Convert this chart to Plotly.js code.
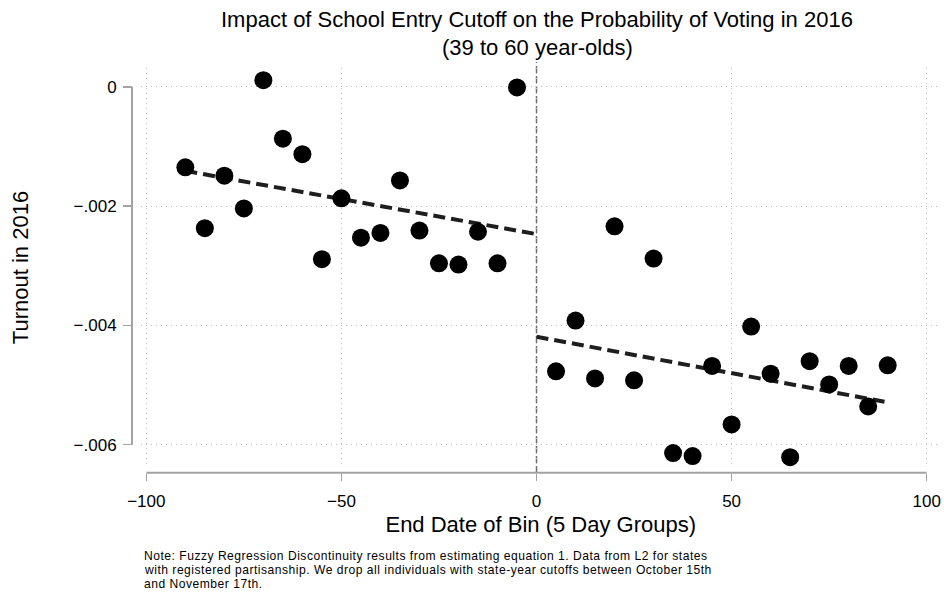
<!DOCTYPE html>
<html>
<head>
<meta charset="utf-8">
<script src="https://cdn.plot.ly/plotly-3.0.1.min.js"></script>
<style>html,body{margin:0;padding:0;background:#fff;}#chart{width:944px;height:595px;}</style>
</head>
<body>
<div id="chart"></div>
<script>
// Binned means: below cutoff
var binLeft = [-90, -85, -80, -75, -70, -65, -60, -55, -50, -45, -40, -35, -30, -25, -20, -15, -10, -5];
var turnoutLeft = [-0.00135, -0.00237, -0.00149, -0.00204, 0.00011, -0.00087, -0.00113, -0.00289, -0.00187, -0.00253, -0.00245, -0.00157, -0.00241, -0.00296, -0.00298, -0.00243, -0.00296, -0.00001];
// Binned means: above cutoff
var binRight = [5, 10, 15, 20, 25, 30, 35, 40, 45, 50, 55, 60, 65, 70, 75, 80, 85, 90];
var turnoutRight = [-0.00477, -0.00392, -0.00489, -0.00234, -0.00492, -0.00288, -0.00614, -0.00619, -0.00468, -0.00566, -0.00402, -0.00481, -0.00621, -0.00460, -0.00499, -0.00468, -0.00536, -0.00467];
// Fitted lines (end points)
var fitLeftX = [-90, 0];
var fitLeftY = [-0.00141, -0.00247];
var fitRightX = [0, 90];
var fitRightY = [-0.00419, -0.00529];
// Ticks
var xTickVals = [-100, -50, 0, 50, 100];
var xTickText = ['\u2212100', '\u221250', '0', '50', '100'];
var yTickVals = [0, -0.002, -0.004, -0.006];
var yTickText = ['0', '\u2212.002', '\u2212.004', '\u2212.006'];
// Texts
var titleLines = ['Impact of School Entry Cutoff on the Probability of Voting in 2016', '(39 to 60 year-olds)'];
var xTitle = 'End Date of Bin (5 Day Groups)';
var yTitle = 'Turnout in 2016';
var noteLines = [
  'Note: Fuzzy Regression Discontinuity results from estimating equation 1. Data from L2 for states',
  'with registered partisanship. We drop all individuals with state-year cutoffs between October 15th',
  'and November 17th.'
];

var W = 944, H = 595;
var FONT = 'Liberation Sans, Arial, Helvetica, sans-serif';
var axisGray = '#a3a3a3';
function px(x) { return x / W; }
function py(y) { return (H - y) / H; }

var markerStyle = {size: 18, color: '#000000', line: {width: 0}};
var fitStyle = {color: '#1e1e1e', width: 4, dash: '12px,6px'};

var traces = [
  {x: fitLeftX, y: fitLeftY, type: 'scatter', mode: 'lines', line: fitStyle, hoverinfo: 'skip'},
  {x: fitRightX, y: fitRightY, type: 'scatter', mode: 'lines', line: fitStyle, hoverinfo: 'skip'},
  {x: binLeft, y: turnoutLeft, type: 'scatter', mode: 'markers', marker: markerStyle},
  {x: binRight, y: turnoutRight, type: 'scatter', mode: 'markers', marker: markerStyle}
];

var annotations = noteLines.map(function (t, i) {
  return {text: '<span style="letter-spacing:0.5px">' + t + '</span>',
          xref: 'paper', yref: 'paper', x: px(142), y: py(556 + 14 * i),
          xanchor: 'left', yanchor: 'middle', showarrow: false,
          font: {family: FONT, size: 12.1, color: '#000'}};
});
titleLines.forEach(function (t, i) {
  annotations.push({text: t, xref: 'paper', yref: 'paper', x: px(537), y: py(20 + 27 * i),
          xanchor: 'center', yanchor: 'middle', showarrow: false,
          font: {family: FONT, size: 22, color: '#000'}});
});

var layout = {
  width: W, height: H,
  margin: {l: 0, r: 0, t: 0, b: 0},
  paper_bgcolor: '#ffffff', plot_bgcolor: '#ffffff',
  showlegend: false,
  font: {family: FONT, color: '#000'},
  xaxis: {
    domain: [px(140.5), px(941)], range: [-101.49, 103.66],
    anchor: 'free', position: py(472.7),
    tickmode: 'array', tickvals: xTickVals, ticktext: xTickText,
    ticks: 'outside', ticklen: 7, tickwidth: 1.5, tickcolor: axisGray,
    ticklabelstandoff: 6,
    tickfont: {family: FONT, size: 17, color: '#000'},
    showline: false, zeroline: false,
    showgrid: true, gridcolor: '#bdbdbd', gridwidth: 1, griddash: '1px,4px',
    title: {text: xTitle, standoff: 6, font: {family: FONT, size: 22, color: '#000'}}
  },
  yaxis: {
    domain: [py(467), py(68)], range: [-0.006374, 0.000315],
    anchor: 'free', position: px(132),
    tickmode: 'array', tickvals: yTickVals, ticktext: yTickText,
    ticks: 'outside', ticklen: 9, tickwidth: 1.5, tickcolor: axisGray,
    ticklabelstandoff: 3,
    tickfont: {family: FONT, size: 17, color: '#000'},
    showline: false, zeroline: false,
    showgrid: true, gridcolor: '#bdbdbd', gridwidth: 1, griddash: '1px,4px',
    title: {text: yTitle, standoff: 37, font: {family: FONT, size: 22, color: '#000'}}
  },
  shapes: [
    {type: 'line', xref: 'x', yref: 'paper', x0: xTickVals[0], x1: xTickVals[xTickVals.length - 1],
     y0: py(472.7), y1: py(472.7), line: {color: axisGray, width: 2}, layer: 'above'},
    {type: 'line', xref: 'paper', yref: 'y', x0: px(132), x1: px(132),
     y0: yTickVals[0], y1: yTickVals[yTickVals.length - 1], line: {color: axisGray, width: 2}, layer: 'above'},
    {type: 'line', xref: 'x', yref: 'paper', x0: 0, x1: 0, y0: py(473), y1: py(62),
     line: {color: '#6e6e6e', width: 1.5, dash: '7px,3px'}, layer: 'below'}
  ],
  annotations: annotations
};

Plotly.newPlot('chart', traces, layout, {displayModeBar: false, staticPlot: true});
</script>
</body>
</html>
